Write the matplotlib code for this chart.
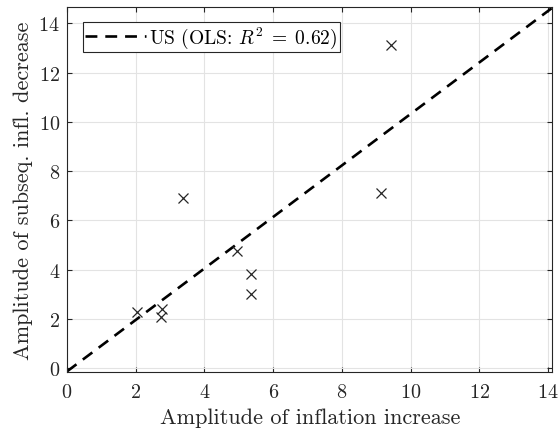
import matplotlib
matplotlib.use('Agg')
import numpy as np
import matplotlib.pyplot as plt

# amplitude of inflation increase vs. subsequent decrease (US episodes)
amp_up   = [2.05, 2.77, 2.75, 3.37, 4.94, 5.37, 5.37, 9.15, 9.42]
amp_down = [2.27, 2.40, 2.07, 6.90, 4.75, 3.81, 3.01, 7.12, 13.13]

# fitted line
slope, icept = 1.045, -0.13
r2 = 0.62

plt.rcParams['font.family'] = 'cmr10'
plt.rcParams['mathtext.fontset'] = 'cm'
plt.rcParams['axes.formatter.use_mathtext'] = True

fig = plt.figure(figsize=(5.6, 4.31), dpi=100)
ax = fig.add_axes([0.1196, 0.1353, 0.867, 0.8455])

xx = np.array([0.0, 15.0])
ax.plot(xx, icept + slope*xx, color='black', lw=1.9, dashes=(4.5, 3.0),
        label=r'US (OLS: $R^2\;=\;%.2f$)' % r2)
ax.plot(amp_up, amp_down, ls='none', marker='x', ms=7.5, mew=0.9,
        color='#262626')

ax.set_xlim(0, 14.13)
ax.set_ylim(-0.14, 14.65)
ax.set_xticks(np.arange(0, 15, 2))
ax.set_yticks(np.arange(0, 15, 2))
ax.grid(True, color='#e3e3e3', lw=0.8)
ax.set_axisbelow(True)
for s in ax.spines.values():
    s.set_color('#262626')
    s.set_linewidth(0.8)
ax.tick_params(axis='both', which='both', direction='in', top=True, right=True,
               length=3.5, width=0.8, color='#262626', labelsize=14.5,
               labelcolor='#262626')
ax.tick_params(axis='x', pad=8)
ax.tick_params(axis='y', pad=5)

ax.set_xlabel('Amplitude of inflation increase', size=16, color='#262626', labelpad=5)
ax.set_ylabel('Amplitude of subseq. infl. decrease', size=16, color='#262626', labelpad=4)

leg = ax.legend(loc='upper left', bbox_to_anchor=(0.033, 0.96), borderaxespad=0,
                fontsize=14, handlelength=3.1, handletextpad=0.2, borderpad=0.12,
                fancybox=False, framealpha=1, edgecolor='#262626')
leg.get_frame().set_linewidth(0.8)

plt.savefig('out.png', dpi=100)
